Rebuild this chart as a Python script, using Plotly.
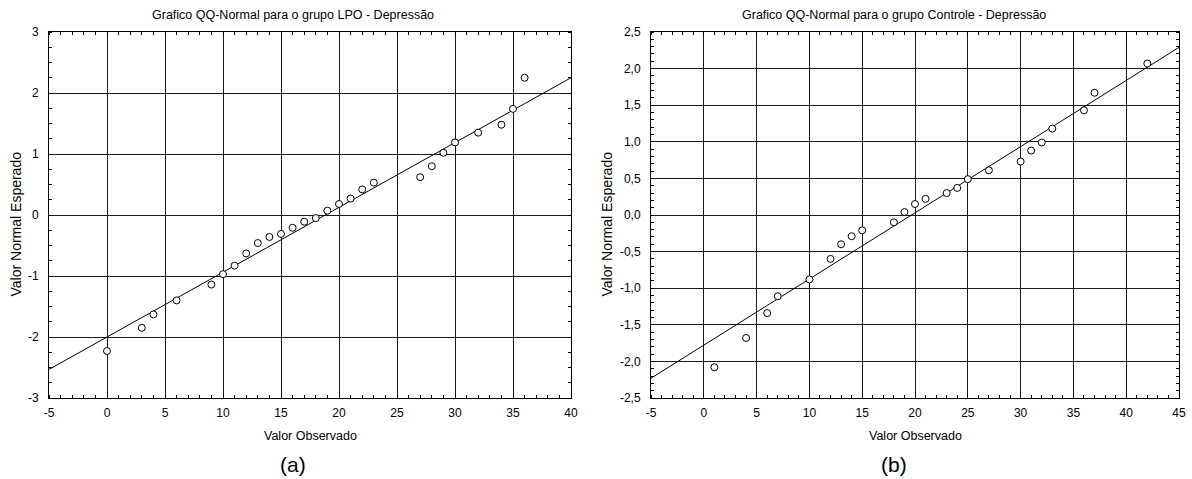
import plotly.graph_objects as go

# ---- data ----
lpo_observed = [0, 3, 4, 6, 9, 10, 11, 12, 13, 14, 15, 16, 17, 18, 19, 20, 21, 22, 23,
                27, 28, 29, 30, 32, 34, 35, 36]
lpo_expected = [-2.23, -1.85, -1.63, -1.40, -1.14, -0.97, -0.83, -0.63, -0.46, -0.36,
                -0.31, -0.21, -0.11, -0.05, 0.07, 0.18, 0.27, 0.42, 0.53,
                0.62, 0.80, 1.02, 1.19, 1.35, 1.48, 1.74, 2.25]
lpo_intercept = -2.0
lpo_slope = 0.10625

ctl_observed = [1, 4, 6, 7, 10, 12, 13, 14, 15, 18, 19, 20, 21, 23, 24, 25, 27,
                30, 31, 32, 33, 36, 37, 42]
ctl_expected = [-2.08, -1.68, -1.34, -1.11, -0.88, -0.60, -0.40, -0.29, -0.21,
                -0.10, 0.04, 0.15, 0.22, 0.30, 0.37, 0.49, 0.61,
                0.73, 0.88, 0.99, 1.18, 1.43, 1.67, 2.07]
ctl_intercept = -1.778
ctl_slope = 0.0904

lpo_xrange = [-5, 40]
lpo_yrange = [-3, 3]
ctl_xrange = [-5, 45]
ctl_yrange = [-2.5, 2.5]

lpo_xticks = [-5, 0, 5, 10, 15, 20, 25, 30, 35, 40]
lpo_yticks = [-3, -2, -1, 0, 1, 2, 3]
ctl_xticks = [-5, 0, 5, 10, 15, 20, 25, 30, 35, 40, 45]
ctl_yticks = [-2.5, -2.0, -1.5, -1.0, -0.5, 0.0, 0.5, 1.0, 1.5, 2.0, 2.5]
lpo_ytick_labels = ["-3", "-2", "-1", "0", "1", "2", "3"]
ctl_ytick_labels = ["-2,5", "-2,0", "-1,5", "-1,0", "-0,5", "0,0",
                    "0,5", "1,0", "1,5", "2,0", "2,5"]
lpo_xtick_labels = ["-5", "0", "5", "10", "15", "20", "25", "30", "35", "40"]
ctl_xtick_labels = ["-5", "0", "5", "10", "15", "20", "25", "30", "35", "40", "45"]

titles = ["Grafico QQ-Normal para o grupo LPO - Depressão",
          "Grafico QQ-Normal para o grupo Controle - Depressão"]
x_title = "Valor Observado"
y_title = "Valor Normal Esperado"
panel_labels = ["(a)", "(b)"]

W, H = 1192, 479
FONT = "Liberation Sans, Arial, sans-serif"

fig = go.Figure()

marker = dict(symbol="circle", size=7, color="white", line=dict(color="black", width=1))

# fitted lines
for xr, b0, b1, xa, ya in [(lpo_xrange, lpo_intercept, lpo_slope, "x", "y"),
                           (ctl_xrange, ctl_intercept, ctl_slope, "x2", "y2")]:
    fig.add_trace(go.Scatter(x=xr, y=[b0 + b1 * v for v in xr], mode="lines",
                             line=dict(color="black", width=1), xaxis=xa, yaxis=ya,
                             showlegend=False, hoverinfo="skip"))

fig.add_trace(go.Scatter(x=lpo_observed, y=lpo_expected, mode="markers", marker=marker,
                         xaxis="x", yaxis="y", showlegend=False))
fig.add_trace(go.Scatter(x=ctl_observed, y=ctl_expected, mode="markers", marker=marker,
                         xaxis="x2", yaxis="y2", showlegend=False))

def px_x(p):
    return p / W

def px_y(p):
    return 1 - p / H

top, bottom = 32, 398
dom_y = [px_y(bottom), px_y(top)]

base = dict(showgrid=True, gridcolor="#1a1a1a", gridwidth=1, zeroline=False,
            showline=True, linecolor="black", linewidth=1, mirror="allticks",
            ticks="", tickfont=dict(family=FONT, size=12, color="black"),
            automargin=False, tickmode="array")

def minor(d):
    return dict(ticks="inside", ticklen=3, dtick=d, tickcolor="black", showgrid=False)

fig.update_layout(
    width=W, height=H,
    margin=dict(l=0, r=0, t=0, b=0, autoexpand=False),
    paper_bgcolor="white", plot_bgcolor="white",
    font=dict(family=FONT, color="black"),
    xaxis=dict(domain=[px_x(49), px_x(571)], range=lpo_xrange, anchor="y",
               tickvals=lpo_xticks, ticktext=lpo_xtick_labels, ticklabelstandoff=4,
               minor=minor(1), **base),
    yaxis=dict(domain=dom_y, range=lpo_yrange, anchor="x",
               tickvals=lpo_yticks, ticktext=lpo_ytick_labels, ticklabelstandoff=7,
               minor=minor(0.25), **base),
    xaxis2=dict(domain=[px_x(651), px_x(1179)], range=ctl_xrange, anchor="y2",
                tickvals=ctl_xticks, ticktext=ctl_xtick_labels, ticklabelstandoff=4,
                minor=minor(1), **base),
    yaxis2=dict(domain=dom_y, range=ctl_yrange, anchor="x2",
                tickvals=ctl_yticks, ticktext=ctl_ytick_labels, ticklabelstandoff=7,
                minor=minor(0.1), **base),
)

ann = []
for cx_title, cx_axis, cx_ylab, i in [(293, 310, 15.5, 0), (894, 915, 606.5, 1)]:
    ann.append(dict(text=titles[i], x=px_x(cx_title), y=px_y(15), xref="paper", yref="paper",
                    xanchor="center", yanchor="middle", showarrow=False,
                    font=dict(family=FONT, size=12.5, color="black")))
    ann.append(dict(text=x_title, x=px_x(cx_axis), y=px_y(436), xref="paper", yref="paper",
                    xanchor="center", yanchor="middle", showarrow=False,
                    font=dict(family=FONT, size=12.5, color="black")))
    ann.append(dict(text=y_title, x=px_x(cx_ylab), y=px_y(224), xref="paper", yref="paper",
                    xanchor="center", yanchor="middle", showarrow=False, textangle=-90,
                    font=dict(family=FONT, size=14, color="black")))
    ann.append(dict(text=panel_labels[i], x=px_x(cx_title), y=px_y(464), xref="paper",
                    yref="paper", xanchor="center", yanchor="middle", showarrow=False,
                    font=dict(family=FONT, size=21, color="black")))
fig.update_layout(annotations=ann)

fig.write_html("out.html",
               config={"displayModeBar": False, "staticPlot": True},
               post_script="document.body.style.margin='0px';"
                           "document.body.style.padding='0px';"
                           "document.body.style.overflow='hidden';")
